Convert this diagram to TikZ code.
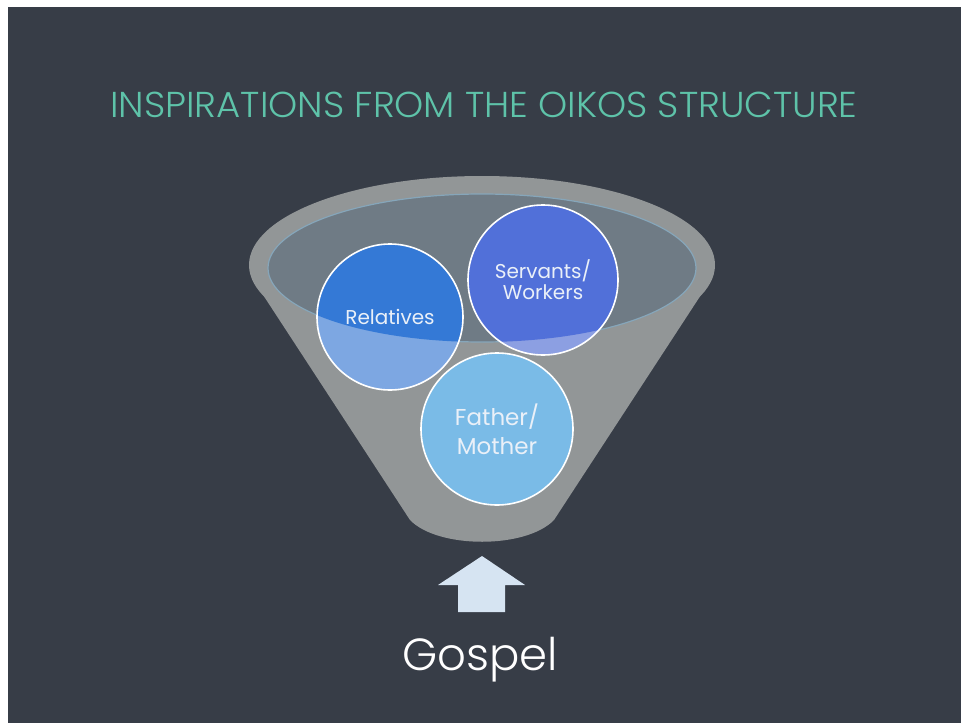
\documentclass[tikz,border=0pt]{standalone}
\usepackage{fontspec}
\setmainfont{Poppins}
\newfontfamily\lightfont{Poppins}[UprightFont=* Light]
\definecolor{bgdark}{HTML}{373D47}
\definecolor{titlecol}{HTML}{5EC3A9}
\definecolor{funnelgray}{HTML}{929697}
\definecolor{innergray}{HTML}{6F7B85}
\definecolor{innerline}{HTML}{86A6BA}
\definecolor{relDark}{HTML}{3479D6}
\definecolor{relLight}{HTML}{7DA7E2}
\definecolor{serDark}{HTML}{5170D9}
\definecolor{serLight}{HTML}{8C9FE2}
\definecolor{famCol}{HTML}{7ABBE7}
\definecolor{arrowCol}{HTML}{D6E4F2}
\definecolor{labelCol}{HTML}{EAF0F8}
\tikzset{
  ballnode/.style={circle, draw=white, line width=1.6pt, minimum size=#1, inner sep=0pt, text=labelCol, align=center},
}
\begin{document}
\begin{tikzpicture}[x=1pt,y=-1pt]
\useasboundingbox (0,0) rectangle (961,723);
\fill[white] (0,0) rectangle (961,723);
\fill[bgdark] (8,7) rectangle (961,723);
% title
\node[anchor=base, text=titlecol, font=\lightfont\fontsize{36}{40}\selectfont, xscale=1.03] (title) at (484,117) {INSPIRATIONS FROM THE OIKOS STRUCTURE};
% funnel body
\fill[funnelgray] (252,278) -- (410,520) .. controls (438,549) and (526,549) .. (554,520) -- (712,278) -- cycle;
\fill[funnelgray] (482,265) ellipse [x radius=233, y radius=89];
\filldraw[fill=innergray, draw=innerline, line width=1.2pt] (482,268) ellipse [x radius=214, y radius=74];
% circles, light fills
\fill[relLight] (390,317) circle [radius=73];
\fill[serLight] (543,280) circle [radius=75];
\begin{scope}
  \clip (482,268) ellipse [x radius=214, y radius=74];
  \fill[relDark] (390,317) circle [radius=73];
  \fill[serDark] (543,280) circle [radius=75];
\end{scope}
\fill[famCol] (497,429) circle [radius=76];
% nodes
\node[ballnode=146pt, font=\fontsize{20}{26}\selectfont] (rel) at (390,317) {Relatives};
\node[ballnode=150pt, font=\fontsize{20}{21}\selectfont] (ser) at (543,280) {Servants/\\Workers};
\node[ballnode=152pt, font=\fontsize{23}{29}\selectfont] (fam) at (497,429) {Father/\\Mother};
% arrow
\fill[arrowCol] (482,556) -- (525,585) -- (505,585) -- (505,612) -- (458,612) -- (458,585) -- (438,585) -- cycle;
\node[anchor=base, text=white, font=\lightfont\fontsize{45}{50}\selectfont] (gospel) at (480,670) {Gospel};
\end{tikzpicture}
\end{document}
